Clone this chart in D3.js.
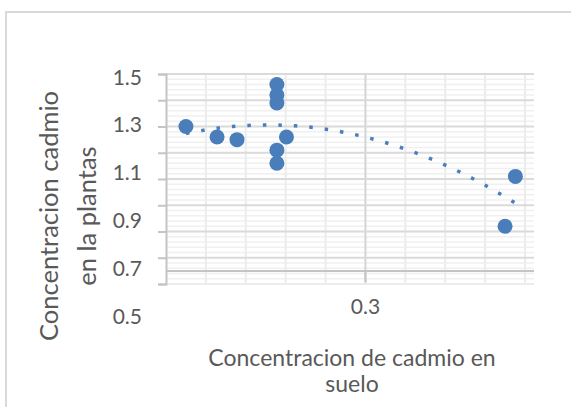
<!DOCTYPE html>
<html>
<head>
<meta charset="utf-8">
<script src="https://cdn.jsdelivr.net/npm/d3@7"></script>
<style>
  html, body { margin: 0; padding: 0; background: #fff; }
  svg text { font-family: Lato, "Open Sans", sans-serif; fill: #595959; }
</style>
</head>
<body>
<svg id="chart" width="571" height="407"></svg>
<script>
// Soil cadmium concentration (x) vs. plant cadmium concentration (y)
const soilCd  = [0.075, 0.114, 0.139, 0.189, 0.189, 0.189, 0.189, 0.189, 0.201, 0.475, 0.488];
const plantCd = [1.30, 1.26, 1.25, 1.46, 1.42, 1.39, 1.21, 1.16, 1.26, 0.92, 1.11];

// Axis labels
const yTickLabels = [1.5, 1.3, 1.1, 0.9, 0.7, 0.5];
const xTickLabels = [0.3];
const yTitleLines = ["Concentracion cadmio", "en la plantas"];
const xTitleLines = ["Concentracion de cadmio en", "suelo"];

const svg = d3.select("#chart");

// Outer chart frame
svg.append("rect")
  .attr("x", 6).attr("y", 12).attr("width", 620).attr("height", 430)
  .attr("fill", "none").attr("stroke", "#d9d9d9").attr("stroke-width", 2);

const plot = { left: 166, right: 534, top: 74, bottom: 284 };

const x = d3.scaleLinear().domain([0.05, 0.5]).range([166, 525]);
const y = d3.scaleLinear().domain([0.7, 1.5]).range([plot.bottom, plot.top]);
// placement of the y tick text
const yLab = d3.scaleLinear().domain([0.5, 1.5]).range([315, 76]);

const g = svg.append("g");

// minor horizontal grid
g.selectAll("line.hmin")
  .data(d3.range(0.72, 1.5, 0.02).filter(v => Math.abs(Math.round(v * 10) - v * 10) > 0.01))
  .join("line")
  .attr("x1", plot.left).attr("x2", plot.right)
  .attr("y1", d => y(d)).attr("y2", d => y(d))
  .attr("stroke", "#f0f0f0").attr("stroke-width", 1.5);

// vertical grid
g.selectAll("line.vgrid")
  .data(d3.range(0.1, 0.5001, 0.05))
  .join("line")
  .attr("x1", d => x(d)).attr("x2", d => x(d))
  .attr("y1", plot.top).attr("y2", plot.bottom)
  .attr("stroke", d => Math.abs(d - 0.3) < 1e-6 ? "#d4d4d4" : "#ececec")
  .attr("stroke-width", 2);

// major horizontal grid
g.selectAll("line.hmaj")
  .data(d3.range(0.7, 1.5001, 0.1))
  .join("line")
  .attr("x1", plot.left).attr("x2", plot.right)
  .attr("y1", d => y(d)).attr("y2", d => y(d))
  .attr("stroke", d => Math.abs(d - 0.7) < 1e-6 ? "#ececec" : "#dadada")
  .attr("stroke-width", 2);

// horizontal axis line
g.append("line")
  .attr("x1", plot.left).attr("x2", plot.right)
  .attr("y1", y(0.75)).attr("y2", y(0.75))
  .attr("stroke", "#c4c4c4").attr("stroke-width", 2);

// tick mark under 0.3
g.append("line")
  .attr("x1", x(0.3)).attr("x2", x(0.3))
  .attr("y1", y(0.75)).attr("y2", y(0.75) + 11)
  .attr("stroke", "#c4c4c4").attr("stroke-width", 2);

// vertical axis with tick marks
const yAxis = d3.axisLeft(y).tickValues(d3.range(0.7, 1.5001, 0.1)).tickSize(8).tickFormat("");
const ya = svg.append("g").attr("transform", `translate(${plot.left},0)`).call(yAxis);
ya.select(".domain").attr("stroke", "#c4c4c4").attr("stroke-width", 2);
ya.selectAll(".tick line").attr("stroke", "#c4c4c4").attr("stroke-width", 2);

// y tick text
svg.selectAll("text.ylab")
  .data(yTickLabels)
  .join("text")
  .attr("x", 142).attr("y", d => yLab(d))
  .attr("text-anchor", "end").attr("dominant-baseline", "central")
  .attr("font-size", 21)
  .text(d => d3.format(".1f")(d));

// x tick text
svg.selectAll("text.xlab")
  .data(xTickLabels)
  .join("text")
  .attr("x", d => x(d)).attr("y", 305)
  .attr("text-anchor", "middle").attr("dominant-baseline", "central")
  .attr("font-size", 21)
  .text(d => d3.format(".1f")(d));

// quadratic least-squares trendline
function quadFit(xs, ys) {
  const n = xs.length;
  let s = [0, 0, 0, 0, 0], t = [0, 0, 0];
  for (let i = 0; i < n; i++) {
    const xi = xs[i], yi = ys[i];
    for (let k = 0; k < 5; k++) s[k] += Math.pow(xi, k);
    for (let k = 0; k < 3; k++) t[k] += yi * Math.pow(xi, k);
  }
  const A = [[s[0], s[1], s[2], t[0]], [s[1], s[2], s[3], t[1]], [s[2], s[3], s[4], t[2]]];
  for (let i = 0; i < 3; i++) {
    for (let j = i + 1; j < 3; j++) {
      const f = A[j][i] / A[i][i];
      for (let k = i; k < 4; k++) A[j][k] -= f * A[i][k];
    }
  }
  const c = [0, 0, 0];
  for (let i = 2; i >= 0; i--) {
    let v = A[i][3];
    for (let k = i + 1; k < 3; k++) v -= A[i][k] * c[k];
    c[i] = v / A[i][i];
  }
  return v => c[0] + c[1] * v + c[2] * v * v;
}
const fit = quadFit(soilCd, plantCd);
const xs = d3.range(d3.min(soilCd), d3.max(soilCd) + 1e-9, (d3.max(soilCd) - d3.min(soilCd)) / 100);
svg.append("path")
  .datum(xs)
  .attr("d", d3.line().x(d => x(d)).y(d => y(fit(d))))
  .attr("fill", "none").attr("stroke", "#4a7ebb")
  .attr("stroke-width", 3.5).attr("stroke-dasharray", "3.5 12");

// data points
svg.selectAll("circle.pt")
  .data(soilCd.map((d, i) => [d, plantCd[i]]))
  .join("circle")
  .attr("cx", d => x(d[0])).attr("cy", d => y(d[1]))
  .attr("r", 7.5).attr("fill", "#4a7ebb");

// axis titles
const yt = svg.append("text")
  .attr("transform", "translate(0,216) rotate(-90)")
  .attr("text-anchor", "middle").attr("font-size", 25.5);
yt.selectAll("tspan").data(yTitleLines).join("tspan")
  .attr("x", 0).attr("y", (d, i) => 58 + i * 38).text(d => d);

svg.selectAll("text.xtitle")
  .data(xTitleLines)
  .join("text")
  .attr("x", 352).attr("y", (d, i) => 357 + i * 26)
  .attr("text-anchor", "middle").attr("dominant-baseline", "central")
  .attr("font-size", 23)
  .text(d => d);
</script>
</body>
</html>
